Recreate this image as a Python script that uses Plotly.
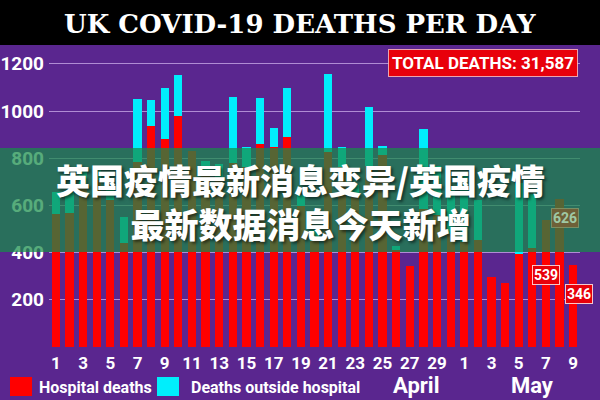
import plotly.graph_objects as go

# ---------------- data ----------------
april = [f"Apr {d}" for d in range(1, 31)]
may = [f"May {d}" for d in range(1, 10)]
days = april + may
tick_days = days[0::2]
tick_text = [d.split()[1] for d in tick_days]

hospital = [563, 569, 684, 708, 621, 439, 786, 938, 881, 980,
            830, 737, 717, 778, 761, 861, 847, 888, 596, 449,
            828, 763, 638, 768, 813, 413, 345, 586, 560, 480,
            445, 453, 295, 270, 395, 420, 539, 626, 346]
outside = [92, 86, 60, 60, 50, 112, 264, 107, 215, 172,
           0, 50, 60, 282, 87, 192, 80, 210, 50, 46,
           330, 85, 50, 247, 38, 15, 0, 337, 205, 194,
           294, 168, 0, 0, 298, 229, 0, 0, 0]
y_ticks = [0, 200, 400, 600, 800, 1000, 1200]
y_tick_text = ["" if v == 0 else str(v) for v in y_ticks]
labelled = [("May 7", "539", 303, 0), ("May 8", "626", 545, 5), ("May 9", "346", 226, 6)]
total_text = "TOTAL DEATHS: 31,587"
title_text = "UK COVID-19 DEATHS PER DAY"
cn_text = "英国疫情最新消息变异/英国疫情<br>最新数据消息今天新增"

# ---------------- layout helpers ----------------
W, H = 600, 400
ML, MR, MT, MB = 49, 20, 52, 53


def px(x):
    return (x - ML) / (W - ML - MR)


def py(y):
    return (H - MB - y) / (H - MT - MB)


NARROW = "Roboto, Liberation Sans, sans-serif"
BG = "#5a268f"

fig = go.Figure()
fig.add_bar(x=days, y=hospital, name="Hospital deaths",
            marker=dict(color="#ff0000", line=dict(width=0)))
fig.add_bar(x=days, y=outside, name="Deaths outside hospital",
            marker=dict(color="#00eefc", line=dict(width=0)))

shapes = [
    # black header
    dict(type="rect", xref="paper", yref="paper", x0=px(0), x1=px(600),
         y0=py(45), y1=py(0), fillcolor="#000000", line=dict(width=0), layer="above"),
    # translucent green band
    dict(type="rect", xref="paper", yref="paper", x0=px(0), x1=px(600),
         y0=py(252), y1=py(148), fillcolor="rgba(22,140,72,0.72)",
         line=dict(width=0), layer="above"),
    # legend swatches
    dict(type="rect", xref="paper", yref="paper", x0=px(10), x1=px(32),
         y0=py(396), y1=py(377), fillcolor="#ff0000", line=dict(width=0)),
    dict(type="rect", xref="paper", yref="paper", x0=px(157), x1=px(179),
         y0=py(396), y1=py(377), fillcolor="#00eefc", line=dict(width=0)),
]

annotations = [
    dict(text=title_text, xref="paper", yref="paper", x=px(300), y=py(24),
         showarrow=False, xanchor="center", yanchor="middle",
         font=dict(family="DejaVu Serif, serif",
                   size=26, color="white", weight="bold")),
    dict(text=total_text, xref="paper", yref="paper", x=px(483), y=py(62.5),
         showarrow=False, xanchor="center", yanchor="middle",
         bgcolor="#e8000b", bordercolor="rgba(255,200,200,0.8)", borderwidth=1,
         borderpad=3,
         font=dict(family=NARROW, size=17, color="white", weight="bold")),
    dict(text=cn_text, xref="paper", yref="paper", x=px(300), y=py(201),
         showarrow=False, xanchor="center", yanchor="middle", align="center",
         font=dict(family="Noto Sans CJK SC", size=34, color="white", weight=900,
                   shadow="2px 2px 3px rgba(0,0,0,0.55)")),
    dict(text="Hospital deaths", xref="paper", yref="paper", x=px(37), y=py(387),
         showarrow=False, xanchor="left", yanchor="middle",
         font=dict(family=NARROW, size=16, color="white", weight="bold")),
    dict(text="Deaths outside hospital", xref="paper", yref="paper", x=px(189), y=py(387),
         showarrow=False, xanchor="left", yanchor="middle",
         font=dict(family=NARROW, size=16, color="white", weight="bold")),
    dict(text="April", xref="x", yref="paper", x="Apr 28", y=py(385), xshift=-7,
         showarrow=False, xanchor="center", yanchor="middle",
         font=dict(family=NARROW, size=22, color="white", weight="bold")),
    dict(text="May", xref="x", yref="paper", x="May 6", y=py(385),
         showarrow=False, xanchor="center", yanchor="middle",
         font=dict(family=NARROW, size=22, color="white", weight="bold")),
]

for day, txt, yv, shift in labelled:
    dim = txt == "626"
    annotations.append(dict(
        text=txt, x=day, y=yv, xref="x", yref="y", xshift=shift, showarrow=False,
        xanchor="center", yanchor="middle",
        bgcolor="#6e6038" if dim else "#e8000b",
        bordercolor="rgba(150,170,120,0.6)" if dim else "rgba(255,220,220,0.9)",
        borderwidth=1, borderpad=1,
        font=dict(family=NARROW, size=14, color="#9fc9a5" if dim else "white",
                  weight="bold")))

fig.update_layout(
    width=W, height=H,
    margin=dict(l=ML, r=MR, t=MT, b=MB, autoexpand=False),
    paper_bgcolor=BG, plot_bgcolor=BG,
    barmode="stack", bargap=0.4,
    showlegend=False,
    shapes=shapes, annotations=annotations,
    xaxis=dict(type="category", categoryorder="array", categoryarray=days,
               range=[-0.5, len(days) - 0.5],
               tickmode="array", tickvals=tick_days, ticktext=tick_text,
               showgrid=False, zeroline=False, showline=False, ticks="",
               automargin=False, ticklabelstandoff=4,
               tickfont=dict(family=NARROW, size=17, color="white", weight="bold")),
    yaxis=dict(range=[0, 1250], tickmode="array", tickvals=y_ticks,
               ticktext=y_tick_text, showgrid=True,
               gridcolor="rgba(205,175,235,0.75)", gridwidth=1,
               zeroline=False, showline=False, ticks="", ticklabelstandoff=4,
               automargin=False,
               tickfont=dict(family=NARROW, size=19, color="white", weight="bold")),
)

fig.write_html("out.html")
